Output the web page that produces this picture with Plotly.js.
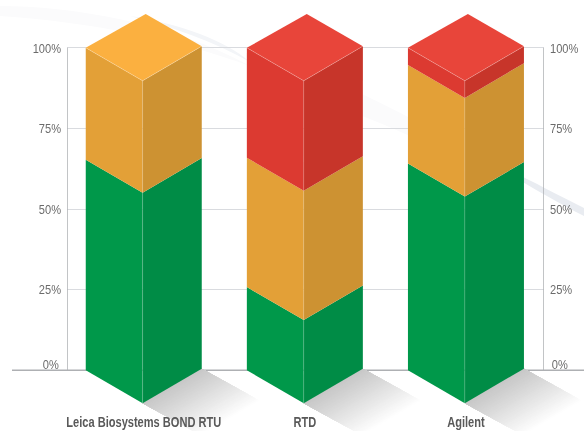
<!DOCTYPE html>
<html><head><meta charset="utf-8">
<script src="https://cdn.plot.ly/plotly-3.0.1.min.js"></script>
<style>html,body{margin:0;padding:0;background:#fff}
#chart text{filter:grayscale(1)}
</style></head><body>
<div id="chart" style="width:584px;height:431px"></div>
<script>
const categories = ["Leica Biosystems BOND RTU", "RTD", "Agilent"];
const green  = [65.3, 25.8, 64.1];
const orange = [34.7, 40.1, 30.6];
const red    = [0, 34.1, 5.3];
const gridVals = [25, 50, 75, 100];
const gridText = ["25%", "50%", "75%", "100%"];

const font = "'Liberation Sans',sans-serif";
const W = 584, H = 431, pL = 67, pR = 544, pT = 7.3, pB = 411.3;
const unitX = 161.1, unitY = 3.225, zeroX = 143.75, zeroY = 370.3;
const toX = p => (p - zeroX) / unitX, toY = p => (zeroY - p) / unitY;
const hw = 0.36, dF = 10.23, dB = 10.5, tilt = 0.5, fx = -0.007, bx = 0.012;

const series = [
  {v: green,  left: "#00984A", right: "#008C46", top: "#00A651"},
  {v: orange, left: "#E3A037", right: "#CD9232", top: "#FBB040"},
  {v: red,    left: "#DC3A31", right: "#C7352A", top: "#E8453A"}
];
const traces = [];
const poly = (x, y, color, ax) => traces.push({x, y, type: "scatter", mode: "lines", fill: "toself",
  fillcolor: color, line: {width: 0, color}, hoverinfo: "skip", showlegend: false, cliponaxis: false,
  xaxis: ax ? "x" : "x2", yaxis: ax ? "y" : "y2"});
const line = (x, y, color, width, yaxis) => traces.push({x, y, type: "scatter", mode: "lines",
  line: {width, color}, hoverinfo: "skip", showlegend: false, cliponaxis: false, xaxis: "x2", yaxis: yaxis || "y2"});

// ground shadows live on the full-page axes so that they can run off the plot area
categories.forEach((c, i) => {
  const n = 40, sx = 0.40, sy = -11;
  for (let k = n - 1; k >= 0; k--) {
    const b = (k + 1) / n, g = Math.round(200 + 55 * Math.min(1, Math.pow(k / (n - 1) / 0.92, 1.05)));
    poly([i + hw, i + fx, i + fx + sx * b, i + hw + sx * b],
         [tilt, -dF, -dF + sy * b, tilt + sy * b], `rgb(${g},${g},${g})`, true);
  }
});

// axis lines
line([toX(pL), toX(pL)], [0, 100], "#AEB0B3", 1.5);
line([toX(pR), toX(pR)], [0, 100], "#AEB0B3", 1.5, "y3");

categories.forEach((c, i) => {
  let base = 0;
  series.forEach(s => {
    const v = s.v[i];
    if (v > 0) {
      const t = base + v;
      poly([i - hw, i + fx, i + fx, i - hw], [base, base - dF, t - dF, t], s.left);
      poly([i + fx, i + hw, i + hw, i + fx], [base - dF, base + tilt, t + tilt, t - dF], s.right);
    }
    base += v;
  });
  const topS = series.filter(s => s.v[i] > 0).pop();
  poly([i - hw, i + bx, i + hw, i + fx], [base, base + dB, base + tilt, base - dF], topS.top);
  line([i + fx, i + fx], [-dF, base - dF], "rgba(255,255,255,0.22)", 0.7);
  line([i - hw, i + fx, i + hw], [base, base - dF, base + tilt], "rgba(255,255,255,0.4)", 0.6);
});

const P = cmds => cmds.map(c => c[0] + " " + c.slice(1).map((q, i) => i % 2 ? (H - q) / H : q / W).join(" ")).join(" ");
const bg = (path, fillcolor) => ({type: "path", xref: "paper", yref: "paper", layer: "below",
  line: {width: 0}, fillcolor, path});
const shapes = [
  bg(P([["M", 0, 6], ["C", 70, 6, 170, 22, 250, 66], ["C", 180, 40, 90, 22, 0, 16], ["Z"]]), "#FBFBFC"),
  bg(P([["M", 130, 16], ["C", 180, 24, 225, 40, 250, 62], ["C", 215, 42, 170, 26, 130, 16], ["Z"]]), "#F3F5F8"),
  bg(P([["M", 362, 94], ["C", 420, 122, 470, 150, 520, 178], ["L", 500, 178], ["C", 450, 155, 400, 130, 362, 116], ["Z"]]), "#FBFBFC"),
  bg(P([["M", 505, 168], ["C", 530, 180, 560, 196, 584, 208], ["L", 584, 216], ["C", 560, 204, 530, 186, 505, 172], ["Z"]]), "#E9ECF1"),
  {type: "line", xref: "paper", yref: "y2", x0: 12 / W, x1: 1, y0: 0, y1: 0, layer: "below",
   line: {color: "#AEB0B3", width: 1.5}}
];

const mkFont = () => ({family: font, size: 13.5, color: "#6A6B6E"});
const zeroLab = (x, anchor, sh) => ({xref: "x2", yref: "y2", x, y: 0, text: "0%", showarrow: false,
  xanchor: anchor, yanchor: "middle", yshift: 6, xshift: sh, font: mkFont(), borderpad: 0});

const hidden = {showgrid: false, zeroline: false, showline: false, ticks: "", showticklabels: false, fixedrange: true};
const yRange2 = [toY(pB), toY(pT)];

Plotly.newPlot("chart", traces, {
  width: W, height: H, margin: {l: 0, r: 0, t: 0, b: 0, pad: 0},
  paper_bgcolor: "#fff", plot_bgcolor: "rgba(0,0,0,0)", showlegend: false,
  xaxis: {...hidden, domain: [0, 1], range: [toX(0), toX(W)]},
  yaxis: {...hidden, domain: [0, 1], range: [toY(H), toY(0)]},
  xaxis2: {domain: [pL / W, pR / W], range: [toX(pL), toX(pR)], anchor: "y2", tickmode: "array", tickvals: [0, 1, 2],
    ticktext: categories, showgrid: false, zeroline: false, showline: false, ticks: "", fixedrange: true,
    ticklabelstandoff: 1, tickfont: {family: font, size: 14, color: "#58595B", weight: 700}},
  yaxis2: {domain: [(H - pB) / H, (H - pT) / H], anchor: "x2", range: yRange2, color: "#6A6B6E", tickmode: "array",
    tickvals: gridVals, ticktext: gridText, showgrid: true, gridcolor: "#D9DBDF", gridwidth: 1, zeroline: false,
    showline: false, ticks: "", ticklabelstandoff: 5, fixedrange: true, tickfont: mkFont()},
  yaxis3: {overlaying: "y2", anchor: "x2", side: "right", range: yRange2, color: "#6A6B6E", tickmode: "array",
    tickvals: gridVals, ticktext: gridText, showgrid: false, zeroline: false, showline: false, ticks: "",
    ticklabelstandoff: 5, fixedrange: true, tickfont: mkFont()},
  shapes,
  annotations: [zeroLab(toX(pL), "right", -5), zeroLab(toX(pR), "left", 5)]
}, {displayModeBar: false, staticPlot: true}).then(gd => {
  // the reference uses a condensed face: squeeze the real text nodes horizontally
  gd.querySelectorAll(".main-svg text").forEach(t => {
    const bold = t.closest(".xaxislayer-above, [class*='x2tick']");
    t.setAttribute("textLength", (t.getComputedTextLength() * (bold ? 0.79 : 0.82)).toFixed(1));
    t.setAttribute("lengthAdjust", "spacingAndGlyphs");
  });
});
</script></body></html>
